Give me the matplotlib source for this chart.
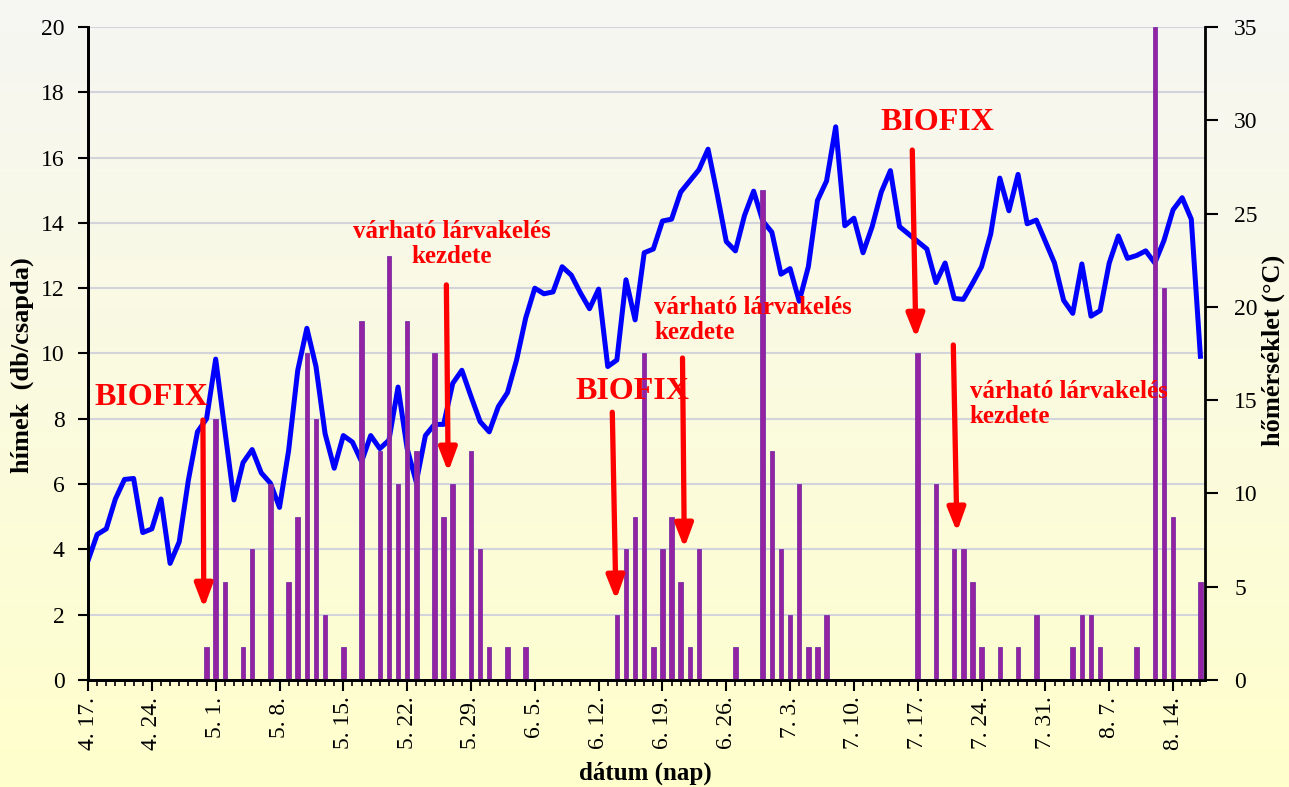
import matplotlib
matplotlib.use("Agg")
import matplotlib.pyplot as plt
import numpy as np
import pandas as pd

plt.rcParams["font.family"] = ["Liberation Serif", "DejaVu Serif"]

# napi adatok 4.17-tol
start_date = "2009-04-17"

# himek (db/csapda), hetente egy sor
males = [
    0, 0, 0, 0, 0, 0, 0,
    0, 0, 0, 0, 0, 0, 1,
    8, 3, 0, 1, 4, 0, 6,
    0, 3, 5, 10, 8, 2, 0,
    1, 0, 11, 0, 7, 13, 6,
    11, 7, 0, 10, 5, 6, 0,
    7, 4, 1, 0, 1, 0, 1,
    0, 0, 0, 0, 0, 0, 0,
    0, 0, 2, 4, 5, 10, 1,
    4, 5, 3, 1, 4, 0, 0,
    0, 1, 0, 0, 15, 7, 4,
    2, 6, 1, 1, 2, 0, 0,
    0, 0, 0, 0, 0, 0, 0,
    10, 0, 6, 0, 4, 4, 3,
    1, 0, 1, 0, 1, 0, 2,
    0, 0, 0, 1, 2, 2, 1,
    0, 0, 0, 1, 0, 20, 12,
    5, 0, 0, 3,
]

# homerseklet (°C)
temperature = [
    6.4, 7.8, 8.1, 9.7, 10.75, 10.8, 7.9,
    8.1, 9.7, 6.25, 7.4, 10.7, 13.3, 14.0,
    17.2, 13.4, 9.65, 11.65, 12.35, 11.1, 10.55,
    9.25, 12.3, 16.6, 18.85, 16.8, 13.2, 11.35,
    13.1, 12.75, 11.7, 13.1, 12.4, 12.85, 15.7,
    12.4, 10.6, 13.1, 13.7, 13.7, 15.9, 16.6,
    15.2, 13.85, 13.3, 14.65, 15.4, 17.15, 19.4,
    21.0, 20.7, 20.8, 22.15, 21.7, 20.75, 19.9,
    20.95, 16.8, 17.15, 21.45, 19.3, 22.9, 23.1,
    24.6, 24.7, 26.15, 26.75, 27.35, 28.45, 26.05,
    23.5, 23.0, 24.9, 26.2, 24.6, 24.0, 21.75,
    22.05, 20.3, 22.15, 25.7, 26.75, 29.65, 24.35,
    24.75, 22.9, 24.3, 26.15, 27.3, 24.3, 23.9,
    23.5, 23.1, 21.3, 22.35, 20.45, 20.4, 21.25,
    22.15, 23.9, 26.9, 25.15, 27.1, 24.45, 24.65,
    23.5, 22.35, 20.35, 19.65, 22.3, 19.5, 19.8,
    22.35, 23.8, 22.6, 22.75, 23.0, 22.35, 23.55,
    25.2, 25.85, 24.7, 17.35,
]

dates = pd.date_range(start_date, periods=len(temperature), freq="D")
days = np.arange(len(dates))
tick_labels = [f"{d.month}. {d.day}." for d in dates[::7]]

fig = plt.figure(figsize=(12.89, 7.87), dpi=100)

# hatter szinatmenet
bg = fig.add_axes([0, 0, 1, 1], zorder=-5)
g = np.linspace(0, 1, 256)[:, None, None]
top_c = np.array([0.965, 0.965, 0.955])
bot_c = np.array([1.0, 1.0, 0.80])
bg.imshow(top_c + (bot_c - top_c) * g, aspect="auto", extent=[0, 1, 0, 1])
bg.axis("off")

ax = fig.add_axes([0.0683, 0.136, 0.8665, 0.8297])
ax2 = ax.twinx()
ax.set_zorder(ax2.get_zorder() + 1)
ax.patch.set_visible(False)

# homerseklet (jobb tengely)
ax2.plot(days, temperature, color="#0000FF", lw=3.6, solid_joinstyle="round")
ax2.set_ylim(0, 35)
ax2.set_yticks(np.arange(0, 36, 5))
ax2.set_yticks(np.arange(0, 35.1, 3.5), minor=True)
ax2.yaxis.remove_overlapping_locs = False
ax2.grid(axis="y", which="minor", color="#D3D3DC", lw=1.5)
ax2.tick_params(axis="y", which="minor", length=0)
ax2.tick_params(axis="y", which="major", length=9, width=1.5, labelsize=17, pad=12)

# himek (bal tengely)
ax.bar(days, males, width=0.5, color="#9323A3", edgecolor="#7A32A6", lw=0.6)
ax.set_ylim(0, 20)
ax.set_yticks(np.arange(0, 21, 2))
ax.set_xlim(0, 122.5)
ax.set_xticks(days[::7])
ax.set_xticklabels(tick_labels, rotation=90)
ax.set_xticks(days, minor=True)
ax.tick_params(axis="x", which="major", length=8, width=1.5, labelsize=17, pad=4)
ax.tick_params(axis="x", which="minor", length=4, width=1.2)
ax.tick_params(axis="y", length=7, width=1.5, labelsize=17, pad=10)

for a in (ax, ax2):
    a.spines["top"].set_visible(False)
    for s in ("left", "right", "bottom"):
        a.spines[s].set_linewidth(2)
        a.spines[s].set_color("black")
ax.spines["right"].set_visible(False)

fig.text(0.017, 0.536, "hímek  (db/csapda)", rotation=90, ha="center",
         va="center", fontsize=19, fontweight="bold")
fig.text(0.988, 0.555, "hőmérséklet (°C)", rotation=90, ha="center",
         va="center", fontsize=19, fontweight="bold")
fig.text(0.5004, 0.018, "dátum (nap)", ha="center", va="center",
         fontsize=18, fontweight="bold")

# feliratok es nyilak
red = "#FF0000"
lab = "várható lárvakelés\nkezdete"
ax.text(6.9, 8.64, "BIOFIX", color=red, fontsize=23, fontweight="bold",
        ha="center", va="center")
ax.text(39.9, 13.35, lab, color=red, fontsize=18, fontweight="bold",
        ha="center", va="center", multialignment="center", linespacing=1.1)
ax.text(59.7, 8.85, "BIOFIX", color=red, fontsize=23, fontweight="bold",
        ha="center", va="center")
ax.text(62.1, 11.03, lab, color=red, fontsize=18, fontweight="bold",
        ha="left", va="center", multialignment="left", linespacing=1.1)
ax.text(93.2, 17.06, "BIOFIX", color=red, fontsize=23, fontweight="bold",
        ha="center", va="center")
ax.text(96.7, 8.45, lab, color=red, fontsize=18, fontweight="bold",
        ha="left", va="center", multialignment="left", linespacing=1.1)

arrows = [
    ((12.6, 7.96), (12.7, 2.2)),
    ((39.3, 12.1), (39.5, 6.37)),
    ((57.5, 8.2), (57.9, 2.45)),
    ((65.2, 9.86), (65.4, 4.04)),
    ((90.4, 16.23), (90.8, 10.47)),
    ((94.9, 10.26), (95.3, 4.53)),
]
for start, end in arrows:
    ax.annotate("", xy=end, xytext=start,
                arrowprops=dict(arrowstyle="-|>,head_length=1.0,head_width=0.38",
                                color=red, lw=3.8, mutation_scale=14,
                                shrinkA=0, shrinkB=0))

fig.savefig("out.png", dpi=100)
